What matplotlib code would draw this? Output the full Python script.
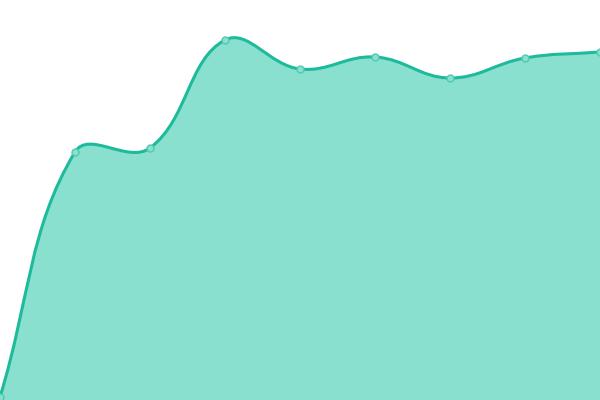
import numpy as np
import matplotlib
matplotlib.use('Agg')
import matplotlib.pyplot as plt
from matplotlib.path import Path
import matplotlib.patches as patches

# data
labels = ['1', '2', '3', '4', '5', '6', '7', '8', '9']
values = [3, 248, 252, 360, 331, 343, 322, 342, 348]

line_color = '#1dbb9b'
fill_color = '#89e0cf'
marker_edge = '#52c9b0'
tension = 0.4

fig = plt.figure(figsize=(6, 4), dpi=100)
ax = fig.add_axes([0, 0, 1, 1])
ax.set_xlim(0, len(values) - 1)
ax.set_ylim(0, 400)
ax.axis('off')

# work in pixel space to get the spline control points
x = np.arange(len(values), dtype=float)
pts = ax.transData.transform(np.column_stack([x, values]))


def controls(prev, cur, nxt, t):
    d01 = np.hypot(*(cur - prev))
    d12 = np.hypot(*(nxt - cur))
    tot = d01 + d12
    s01 = d01 / tot if tot else 0
    s12 = d12 / tot if tot else 0
    c_prev = cur - t * s01 * (nxt - prev)
    c_next = cur + t * s12 * (nxt - prev)
    return c_prev, c_next


n = len(pts)
cp_prev, cp_next = [], []
for i in range(n):
    prev = pts[max(i - 1, 0)]
    nxt = pts[min(i + 1, n - 1)]
    a, b = controls(prev, pts[i], nxt, tension)
    cp_prev.append(a)
    cp_next.append(b)

inv = ax.transData.inverted()
verts = [pts[0]]
codes = [Path.MOVETO]
for i in range(n - 1):
    verts += [cp_next[i], cp_prev[i + 1], pts[i + 1]]
    codes += [Path.CURVE4] * 3
verts = inv.transform(np.array(verts))

# area under the curve
fill_verts = np.vstack([verts, [[x[-1], 0], [x[0], 0], verts[0]]])
fill_codes = codes + [Path.LINETO, Path.LINETO, Path.CLOSEPOLY]
ax.add_patch(patches.PathPatch(Path(fill_verts, fill_codes), fc=fill_color,
                               ec='none', lw=0))
ax.add_patch(patches.PathPatch(Path(verts, codes), fc='none', ec=line_color,
                               lw=2.2, capstyle='round', joinstyle='round'))

ax.plot(x, values, 'o', ms=5, mfc=fill_color, mec=marker_edge, mew=1,
        clip_on=False, zorder=5)

fig.savefig('out.png', dpi=100)
